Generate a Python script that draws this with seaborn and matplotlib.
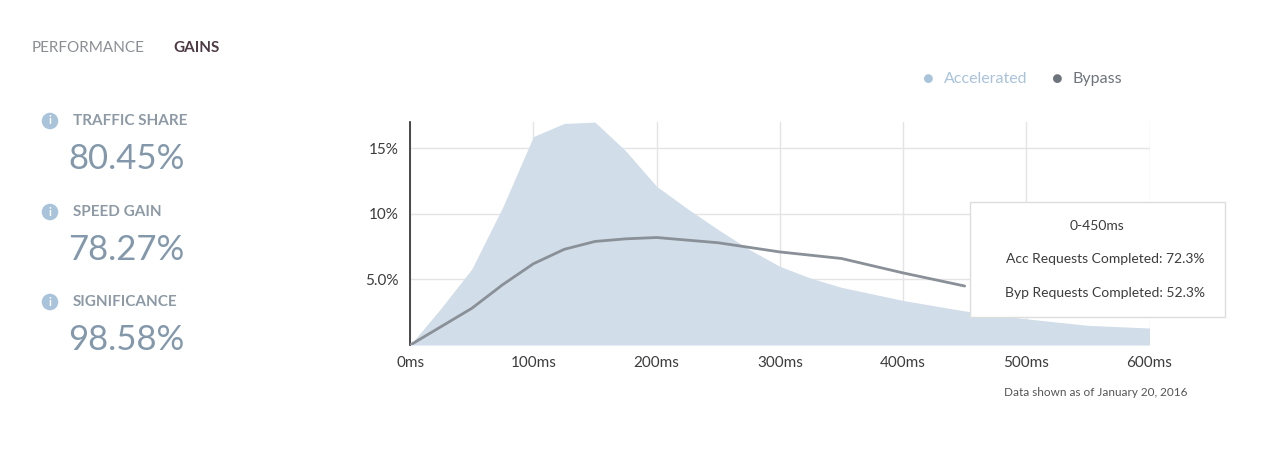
import matplotlib
matplotlib.use("Agg")
import matplotlib.pyplot as plt
import seaborn as sns
import pandas as pd
from matplotlib.patches import FancyBboxPatch

sns.set_theme(style="white")
plt.rcParams['font.family'] = ['Lato', 'DejaVu Sans']

acc_ms = [0, 25, 50, 75, 100, 125, 150, 175, 200, 225, 250, 275, 300, 325, 350, 375, 400, 450, 500, 550, 600]
acc_pct = [0, 2.8, 5.8, 10.5, 15.9, 16.9, 17.0, 14.8, 12.1, 10.4, 8.8, 7.3, 6.0, 5.1, 4.4, 3.9, 3.4, 2.6, 2.0, 1.5, 1.3]
byp_ms = [0, 25, 50, 75, 100, 125, 150, 175, 200, 250, 300, 350, 400, 450]
byp_pct = [0, 1.4, 2.8, 4.6, 6.2, 7.3, 7.9, 8.1, 8.2, 7.8, 7.1, 6.6, 5.5, 4.5]
xticks = [0, 100, 200, 300, 400, 500, 600]
yticks = [5, 10, 15]
ytick_labels = ["5.0%", "10%", "15%"]

acc_col = "#d1dde9"
byp_col = "#8a9097"
txt = "#3c3c3c"

fig = plt.figure(figsize=(12.66, 4.54), dpi=100)
ax = fig.add_axes([0.324, 0.24, 0.584, 0.491])
ax.fill_between(acc_ms, acc_pct, color=acc_col, lw=0, zorder=1)
sns.lineplot(x=byp_ms, y=byp_pct, ax=ax, color=byp_col, lw=2, zorder=3)
ax.set_xlim(0, 600); ax.set_ylim(0, 17)
ax.set_xticks(xticks); ax.set_xticklabels([f"{v}ms" for v in xticks], fontsize=11, color=txt)
ax.set_yticks(yticks); ax.set_yticklabels(ytick_labels, fontsize=11, color=txt)
ax.grid(True, color="#e4e4e4", lw=1, zorder=0)
ax.set_axisbelow(True)
for s in ["top", "right", "bottom"]:
    ax.spines[s].set_visible(False)
ax.spines["left"].set_color("#333333")
ax.tick_params(length=0, pad=8)

# tooltip
fig.patches.append(FancyBboxPatch((970/1266, 1-317/454), 255/1266, 115/454, boxstyle="square,pad=0",
                                  transform=fig.transFigure, fc="white", ec="#dddddd", lw=1, zorder=5))
fig.text(1097/1266, 1-226/454, "0-450ms", ha="center", va="center", fontsize=10, color=txt, zorder=6)
fig.text(1105/1266, 1-259/454, "Acc Requests Completed: 72.3%", ha="center", va="center", fontsize=10, color=txt, zorder=6)
fig.text(1105/1266, 1-293/454, "Byp Requests Completed: 52.3%", ha="center", va="center", fontsize=10, color=txt, zorder=6)

# legend
fig.text(928/1266, 1-79/454, "●", ha="center", va="center", fontsize=13, color="#a9c3da")
fig.text(944/1266, 1-79/454, "Accelerated", ha="left", va="center", fontsize=11.5, color="#a9c3da")
fig.text(1057/1266, 1-79/454, "●", ha="center", va="center", fontsize=13, color="#6d747b")
fig.text(1073/1266, 1-79/454, "Bypass", ha="left", va="center", fontsize=11.5, color="#6d747b")

fig.text(1096/1266, 1-392/454, "Data shown as of January 20, 2016", ha="center", va="center", fontsize=8.5, color="#555555")

# left panel
fig.text(32/1266, 1-48/454, "PERFORMANCE", ha="left", va="center", fontsize=11, color="#8a8f94")
fig.text(173/1266, 1-48/454, "GAINS", ha="left", va="center", fontsize=11, color="#4d3a45", weight="bold")
stats = [("TRAFFIC SHARE", "80.45%", 121), ("SPEED GAIN", "78.27%", 212), ("SIGNIFICANCE", "98.58%", 302)]
for lab, val, y in stats:
    fig.text(50/1266, 1-y/454, "i", ha="center", va="center", fontsize=8, color="white", weight="bold",
             bbox=dict(boxstyle="circle,pad=0.25", fc="#a9c3da", ec="none"))
    fig.text(73/1266, 1-y/454, lab, ha="left", va="center", fontsize=11, color="#8d9aa6", weight="bold")
    fig.text(68/1266, 1-(y+38)/454, val, ha="left", va="center", fontsize=25, color="#8398ab")

fig.savefig("out.png", dpi=100, facecolor="white")
